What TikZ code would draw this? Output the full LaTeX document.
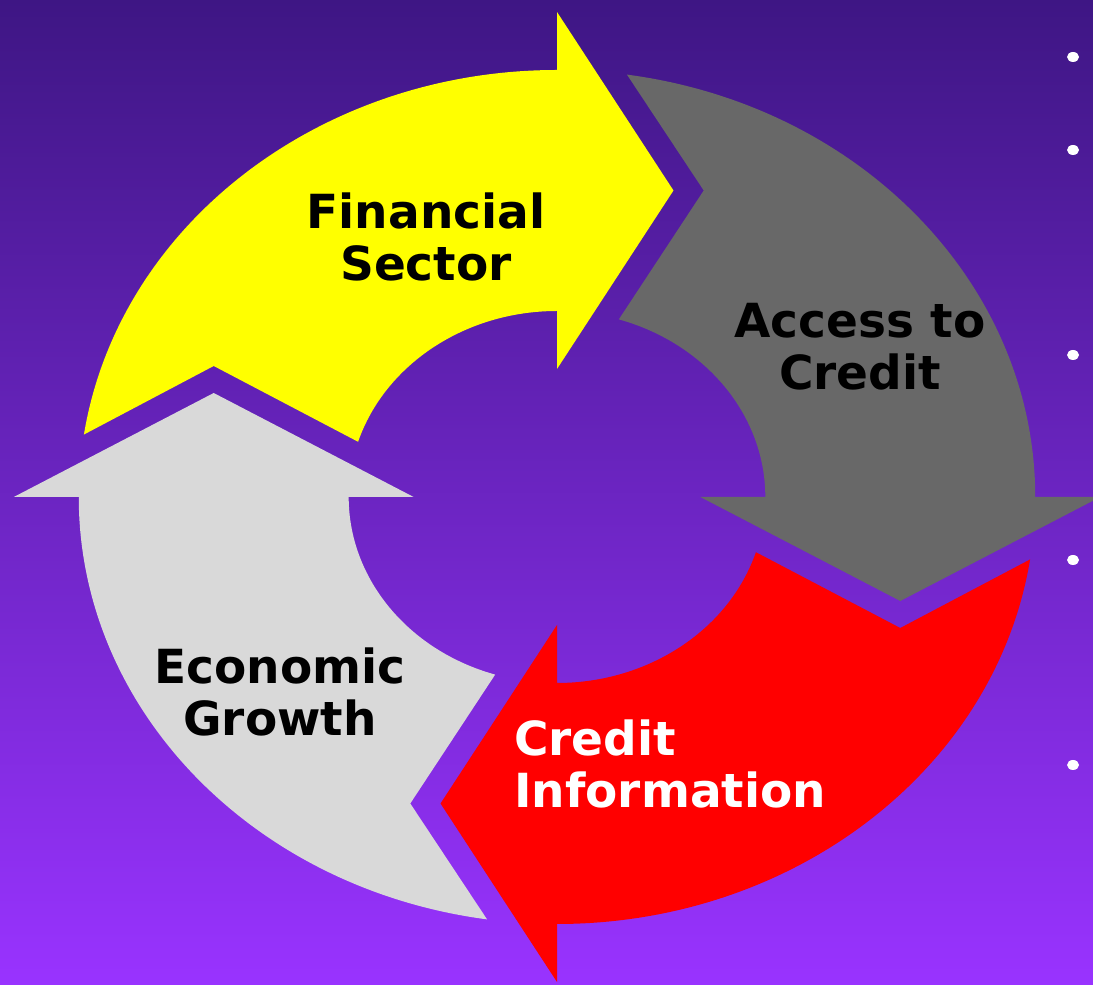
\documentclass[tikz,border=0pt]{standalone}
\usepackage{fontspec}
\setmainfont{DejaVu Sans}
\definecolor{bgtop}{RGB}{62,22,132}
\definecolor{bgbot}{RGB}{153,51,255}
\definecolor{yellowc}{RGB}{255,255,0}
\definecolor{grayc}{RGB}{104,104,104}
\definecolor{redc}{RGB}{255,0,0}
\definecolor{lgrayc}{RGB}{217,217,217}
\tikzset{
  lbl/.style={font=\bfseries\fontsize{47}{52}\selectfont, inner sep=0pt, align=center},
  bulletdot/.style={fill=white, draw=none}
}
\begin{document}
\begin{tikzpicture}[x=1pt,y=1pt]
\useasboundingbox (0,0) rectangle (1093,985);
\shade[top color=bgtop, bottom color=bgbot] (0,0) rectangle (1093,985);
\begin{scope}[shift={(557,488)}, xscale=1.12]
  \foreach \ang/\col in {0/yellowc, -90/grayc, -180/redc, -270/lgrayc}{
    \fill[\col, rotate=\ang]
      (171.59:427) arc[start angle=171.59, end angle=90, radius=427]
      -- (0,485) -- (104,306.5) -- (0,128) -- (0,186)
      arc[start angle=90, end angle=162.73, radius=186]
      -- (-306.5,131) -- cycle;
  }
\end{scope}
\node[lbl] (fin) at (426,748.5) {Financial\\Sector};
\node[lbl] (acc) at (860,638) {Access to\\Credit};
\node[lbl] (eco) at (280,293.5) {Economic\\Growth};
\node[lbl, text=white, align=left, anchor=west] (cri) at (514,221.5) {Credit\\Information};
\foreach \y [count=\i] in {57,150,355,560,765}{
  \fill[bulletdot] (1073,985-\y) ellipse[x radius=6, y radius=5];
}
\end{tikzpicture}
\end{document}
